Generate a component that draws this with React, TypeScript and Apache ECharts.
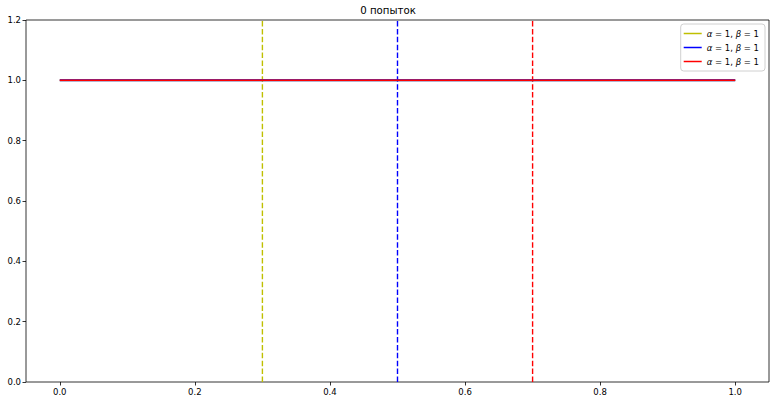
import React, { useEffect, useRef } from "react";
import * as echarts from "echarts";

const titleText = "0 попыток";
const xTicks = [0.0, 0.2, 0.4, 0.6, 0.8, 1.0];
const yTicks = [0.0, 0.2, 0.4, 0.6, 0.8, 1.0, 1.2];
const densityX = [0, 1];
const densityY = [1, 1];
const seriesKeys = ["y", "b", "r"];
const seriesColors = ["#bfbf00", "#0000ff", "#ff0000"];
const seriesLabels = ["α = 1, β = 1", "α = 1, β = 1", "α = 1, β = 1"];
const meanMarks = [0.3, 0.5, 0.7];

export default function App() {
  const ref = useRef<HTMLDivElement>(null);
  useEffect(() => {
    const chart = echarts.init(ref.current!, null, { renderer: "svg" });
    const font = "DejaVu Sans";
    const lineSeries: any[] = seriesKeys.map((k, i) => ({
      name: k,
      type: "line",
      data: densityX.map((x, j) => [x, densityY[j]]),
      showSymbol: false,
      symbol: "none",
      lineStyle: { color: seriesColors[i], width: i === 2 ? 1.5 : 2 },
      itemStyle: { color: seriesColors[i] },
      z: 3 + i,
    }));
    const dashSeries: any[] = seriesKeys.map((k, i) => ({
      name: k + "_mean",
      type: "line",
      data: [
        [meanMarks[i], yTicks[0]],
        [meanMarks[i], yTicks[yTicks.length - 1]],
      ],
      symbol: "none",
      lineStyle: { color: seriesColors[i], width: 1.4, type: [5.5, 2.4] },
      z: 2,
    }));
    chart.setOption({
      animation: false,
      backgroundColor: "#fff",
      title: {
        text: titleText,
        left: "center",
        top: 0,
        textStyle: { fontFamily: font, fontSize: 10.2, fontWeight: "normal", color: "#000" },
      },
      legend: {
        data: seriesKeys,
        right: 11,
        top: 24,
        orient: "vertical",
        itemGap: 5,
        itemWidth: 18,
        itemHeight: 1.5,
        icon: "rect",
        padding: [5, 6, 5, 3],
        borderColor: "#d0d0d0",
        borderWidth: 1,
        borderRadius: 3,
        backgroundColor: "rgba(255,255,255,0.8)",
        formatter: (name: string) => {
          const idx = seriesKeys.indexOf(name);
          return seriesLabels[idx].replace("α", "{i|α}").replace("β", "{i|β}");
        },
        textStyle: {
          fontFamily: font,
          fontSize: 8.5,
          color: "#000",
          rich: { i: { fontStyle: "italic", fontFamily: font, fontSize: 8.5, color: "#000" } },
        },
      },
      grid: {
        left: 26,
        right: 7,
        top: 20,
        bottom: 22,
        show: true,
        borderColor: "#000",
        borderWidth: 0.8,
        backgroundColor: "transparent",
      },
      xAxis: {
        type: "value",
        min: -0.05,
        max: 1.05,
        splitLine: { show: false },
        axisLine: { show: false, onZero: false },
        axisTick: { show: true, customValues: xTicks, length: 3.5, lineStyle: { color: "#000", width: 0.8 } },
        axisLabel: {
          customValues: xTicks,
          formatter: (v: number) => v.toFixed(1),
          fontFamily: font,
          fontSize: 8.5,
          color: "#000",
          margin: 5,
        },
      },
      yAxis: {
        type: "value",
        min: 0,
        max: 1.2,
        interval: 0.2,
        splitLine: { show: false },
        axisLine: { show: false, onZero: false },
        axisTick: { show: true, length: 3.5, lineStyle: { color: "#000", width: 0.8 } },
        axisLabel: {
          formatter: (v: number) => v.toFixed(1),
          fontFamily: font,
          fontSize: 8.5,
          color: "#000",
          margin: 5,
        },
      },
      series: [...dashSeries, ...lineSeries],
    });
    return () => chart.dispose();
  }, []);
  return <div ref={ref} style={{ width: 776, height: 404, position: "absolute", left: 0, top: 0 }} />;
}
